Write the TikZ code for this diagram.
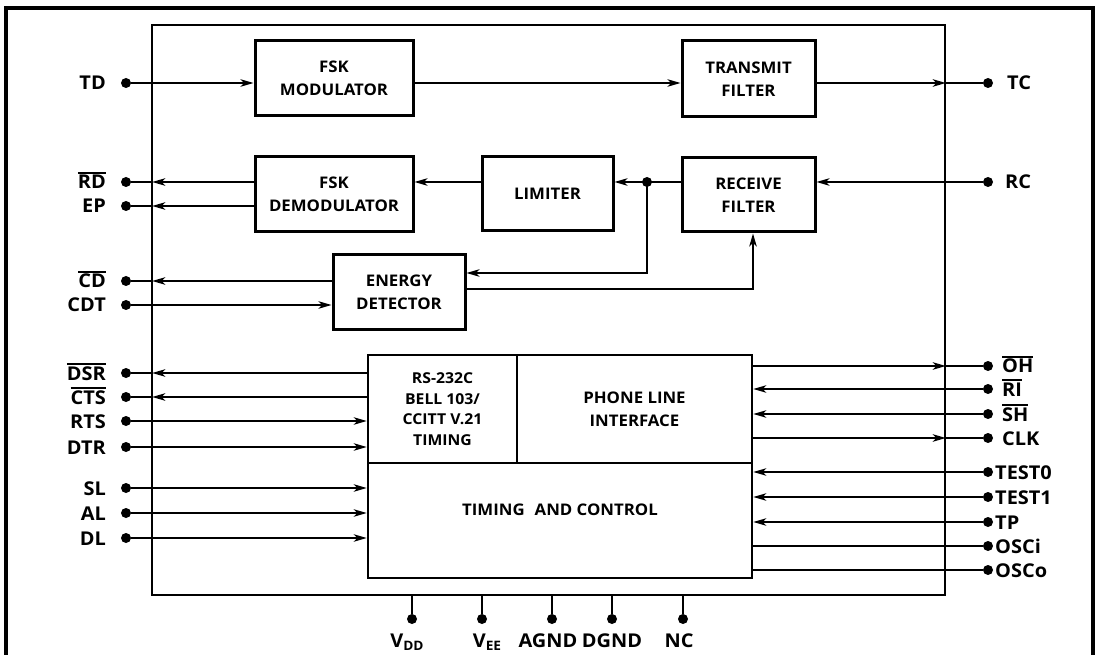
\documentclass[tikz,border=0pt]{standalone}
\usepackage{fontspec}
\setmainfont{Open Sans}[FakeStretch=1.05]
\usetikzlibrary{arrows.meta}
\newcommand\ovl[1]{\setbox0\hbox{#1}\rlap{\raisebox{\dimexpr\ht0+1.6pt\relax}{\rule{\wd0}{1.5pt}}}\box0}
\newcommand\subs[1]{\raisebox{-3pt}{\fontsize{13}{13}\selectfont #1}}
\begin{document}
\begin{tikzpicture}[x=1pt,y=-1pt,
  lab/.style={font=\fontsize{19}{22}\selectfont\bfseries, inner sep=0pt},
  blk/.style={draw, line width=3pt, align=center, font=\fontsize{16}{23}\selectfont\bfseries, inner sep=0pt},
  pin/.style={circle, fill, inner sep=0pt, minimum size=10pt},
  wire/.style={line width=1.5pt},
  arr/.style={wire, -{Stealth[length=13pt,width=7.5pt,inset=3.5pt]}},
]
\useasboundingbox (0,0) rectangle (1096,655);
% outer frame (open at bottom)
\draw[line width=3.2pt] (6,655) -- (6,8) -- (1093,8) -- (1093,655);
% chip boundary
\node[draw, line width=1.6pt, minimum width=793pt, minimum height=570pt, inner sep=0pt] (chip) at (548.5,310) {};

% blocks
\node[blk, minimum width=158pt, minimum height=75pt] (fskm) at (334,78.5) {FSK\\MODULATOR};
\node[blk, minimum width=133pt, minimum height=76pt] (txf) at (748.5,79) {TRANSMIT\\FILTER};
\node[blk, minimum width=158pt, minimum height=75pt] (fskd) at (334,194.5) {FSK\\DEMODULATOR};
\node[blk, minimum width=131pt, minimum height=74pt] (lim) at (547.5,194) {LIMITER};
\node[blk, minimum width=133pt, minimum height=74pt] (rxf) at (748.5,195) {RECEIVE\\FILTER};
\node[blk, minimum width=132pt, minimum height=75pt] (en) at (399,292.5) {ENERGY\\DETECTOR};

\node[blk, line width=2.6pt, minimum width=384pt, minimum height=115pt] (tmc) at (560,520.5) {};
\node[blk, line width=2.6pt, font=\fontsize{15}{20.5}\selectfont\bfseries, minimum width=149pt, minimum height=108pt] (rs) at (442.5,409) {RS-232C\\BELL 103/\\CCITT V.21\\TIMING};
\node[blk, line width=2.6pt, minimum width=235pt, minimum height=108pt] (pli) at (634.5,409) {PHONE LINE\\INTERFACE};
\node[font=\fontsize{16}{23}\selectfont\bfseries, inner sep=0pt] (tmct) at (560,510) {TIMING\hspace{0.35em} AND CONTROL};

% pins
\foreach \n/\y in {TD/83, RD/182, EP/206, CD/281, CDT/305, DSR/373, CTS/397, RTS/421, DTR/447, SL/488, AL/513, DL/538}
  \node[pin] (p\n) at (126,\y) {};
\foreach \n/\y in {TC/83, RC/182, OH/366, RI/389, SH/414, CLK/438, TESTa/472, TESTb/497, TP/522, OSCi/546, OSCo/570}
  \node[pin] (p\n) at (988,\y) {};
\foreach \n/\x in {VDD/412, VEE/482, AGND/552, DGND/612, NC/683}
  \node[pin] (p\n) at (\x,619) {};

% left labels
\foreach \n/\y/\t in {TD/83/TD, RD/182/{\ovl{RD}}, EP/206/EP, CD/281/{\ovl{CD}}, CDT/305/CDT, DSR/373/{\ovl{DSR}}, CTS/397/{\ovl{CTS}}, RTS/421/RTS, DTR/447/DTR, SL/488/SL, AL/513/AL, DL/538/DL}
  \node[lab, anchor=base east] (l\n) at (106,\y+7) {\t};
% right labels
\node[lab, anchor=base west] (lTC) at (1007,90) {TC};
\node[lab, anchor=base west] (lRC) at (1005,189) {RC};
\foreach \n/\y/\t in {OH/366/{\ovl{OH}}, RI/389/{\ovl{RI}}, SH/414/{\ovl{SH}}, CLK/438/CLK}
  \node[lab, anchor=base west] (l\n) at (1002,\y+7) {\t};
\foreach \n/\y/\t in {TESTa/472/TEST0, TESTb/497/TEST1, TP/522/TP, OSCi/546/OSCi, OSCo/570/OSCo}
  \node[lab, anchor=base west] (l\n) at (995,\y+7) {\t};
% bottom labels
\node[lab, anchor=base] (lVDD) at (407,647) {V\subs{DD}};
\node[lab, anchor=base] (lVEE) at (487,647) {V\subs{EE}};
\node[lab, anchor=base] (lAGND) at (548,647) {AGND};
\node[lab, anchor=base] (lDGND) at (612,647) {DGND};
\node[lab, anchor=base] (lNC) at (679,647) {NC};

% transmit path
\draw[arr] (pTD) -- (pTD -| fskm.west);
\draw[arr] (fskm.east |- pTD) -- (pTD -| txf.west);
\draw[arr] (txf.east |- pTC) -- (pTC -| chip.east);
\draw[wire] (pTC -| chip.east) -- (pTC);

% receive path
\draw[arr] (pRC) -- (pRC -| rxf.east);
\coordinate (jn) at (647,182);
\draw[wire] (rxf.west |- jn) -- (jn);
\draw[arr] (jn) -- (jn -| lim.east);
\fill (jn) circle (5pt);
\draw[arr] (lim.west |- jn) -- (jn -| fskd.east);
\draw[arr] (fskd.west |- pRD) -- ([xshift=1pt]pRD -| chip.west);
\draw[wire] (pRD -| chip.west) -- (pRD);
\draw[arr] (fskd.west |- pEP) -- ([xshift=1pt]pEP -| chip.west);
\draw[wire] (pEP -| chip.west) -- (pEP);
\coordinate (jd) at (647,273);
\draw[arr] (jn) -- (jd) -- (jd -| en.east);
\coordinate (ec) at (753,289);
\draw[arr] (ec -| en.east) -- (ec) -- (ec |- rxf.south);
\draw[arr] (en.west |- pCD) -- ([xshift=1pt]pCD -| chip.west);
\draw[wire] (pCD -| chip.west) -- (pCD);
\draw[arr] (pCDT) -- (pCDT -| en.west);

% RS-232C
\draw[arr] (rs.west |- pDSR) -- ([xshift=1pt]pDSR -| chip.west);
\draw[wire] (pDSR -| chip.west) -- (pDSR);
\draw[arr] (rs.west |- pCTS) -- ([xshift=1pt]pCTS -| chip.west);
\draw[wire] (pCTS -| chip.west) -- (pCTS);
\draw[arr] (pRTS) -- (pRTS -| rs.west);
\draw[arr] (pDTR) -- (pDTR -| rs.west);
\draw[arr] (pSL) -- (pSL -| tmc.west);
\draw[arr] (pAL) -- (pAL -| tmc.west);
\draw[arr] (pDL) -- (pDL -| tmc.west);

% phone line side
\draw[arr] (pli.east |- pOH) -- (pOH -| chip.east);
\draw[wire] (pOH -| chip.east) -- (pOH);
\draw[arr] (pRI) -- (pRI -| pli.east);
\draw[arr] (pSH) -- (pSH -| pli.east);
\draw[arr] (pli.east |- pCLK) -- (pCLK -| chip.east);
\draw[wire] (pCLK -| chip.east) -- (pCLK);
\draw[arr] (pTESTa) -- (pTESTa -| tmc.east);
\draw[arr] (pTESTb) -- (pTESTb -| tmc.east);
\draw[arr] (pTP) -- (pTP -| tmc.east);
\draw[wire] (tmc.east |- pOSCi) -- (pOSCi);
\draw[wire] (tmc.east |- pOSCo) -- (pOSCo);

% supply pins
\foreach \n in {VDD, VEE, AGND, DGND, NC}
  \draw[wire] (p\n |- chip.south) -- (p\n);
\end{tikzpicture}
\end{document}
